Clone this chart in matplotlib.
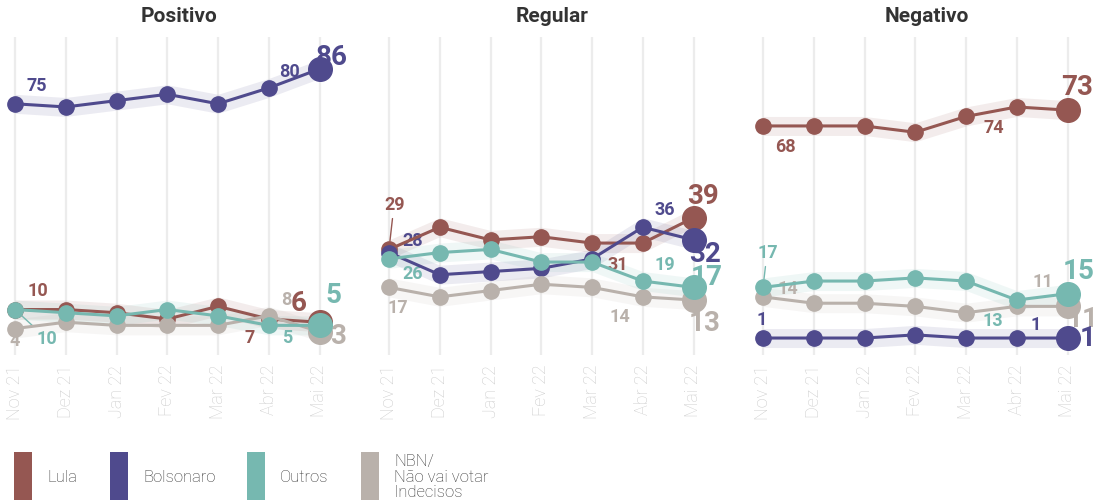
import numpy as np
import matplotlib
matplotlib.use('Agg')
import matplotlib.pyplot as plt
from matplotlib.patches import Rectangle

plt.rcParams['font.family'] = ['Roboto', 'DejaVu Sans']

months = ['Nov 21', 'Dez 21', 'Jan 22', 'Fev 22', 'Mar 22', 'Abr 22', 'Mai 22']
panels = ['Positivo', 'Regular', 'Negativo']

lula_pos = [10, 10, 9, 7, 11, 7, 6]
bolso_pos = [75, 74, 76, 78, 75, 80, 86]
outros_pos = [10, 9, 8, 10, 8, 5, 5]
nbn_pos = [4, 6, 5, 5, 5, 8, 3]

lula_reg = [29, 36, 32, 33, 31, 31, 39]
bolso_reg = [28, 21, 22, 23, 26, 36, 32]
outros_reg = [26, 28, 29, 25, 25, 19, 17]
nbn_reg = [17, 14, 16, 18, 17, 14, 13]

lula_neg = [68, 68, 68, 66, 71, 74, 73]
bolso_neg = [1, 1, 1, 2, 1, 1, 1]
outros_neg = [17, 19, 19, 20, 19, 13, 15]
nbn_neg = [14, 12, 12, 11, 9, 11, 11]

band = 3  # margem de erro aproximada

series = ['Lula', 'Bolsonaro', 'NBN', 'Outros']
legend_names = ['Lula', 'Bolsonaro', 'Outros', 'NBN/\nNão vai votar\nIndecisos']
colors = {'Lula': '#955752', 'Bolsonaro': '#4f4a8d', 'Outros': '#76b8b0', 'NBN': '#b9b1ab'}

data = {
    'Positivo': {'Lula': lula_pos, 'Bolsonaro': bolso_pos, 'Outros': outros_pos, 'NBN': nbn_pos},
    'Regular': {'Lula': lula_reg, 'Bolsonaro': bolso_reg, 'Outros': outros_reg, 'NBN': nbn_reg},
    'Negativo': {'Lula': lula_neg, 'Bolsonaro': bolso_neg, 'Outros': outros_neg, 'NBN': nbn_neg},
}

# (serie, mes, dx px, dy px, grande, linha guia)
labels = {
    'Positivo': [('Bolsonaro', 0, 22, 18, False, False), ('Bolsonaro', 5, 21, 16, False, False),
                 ('Bolsonaro', 6, 12, 11, True, False),
                 ('Lula', 0, 23, 19, False, False), ('NBN', 0, 0, -12, False, False),
                 ('Outros', 0, 32, -29, False, True), ('Lula', 5, -19, -19, False, False),
                 ('Outros', 5, 18, -13, False, False), ('NBN', 5, 18, 16, False, False),
                 ('Lula', 6, -21, 19, True, False), ('Outros', 6, 14, 30, True, False),
                 ('NBN', 6, 19, -5, True, False)],
    'Regular': [('Lula', 0, 6, 44, False, True), ('Bolsonaro', 0, 24, 12, False, False),
                ('Outros', 0, 24, -15, False, False), ('NBN', 0, 9, -21, False, False),
                ('Lula', 4, 26, -22, False, False), ('Outros', 5, 22, 16, False, False),
                ('NBN', 5, -23, -20, False, False), ('Bolsonaro', 5, 22, 17, False, False),
                ('Lula', 6, 9, 21, True, False), ('Bolsonaro', 6, 11, -15, True, False),
                ('Outros', 6, 13, 10, True, False), ('NBN', 6, 11, -23, True, False)],
    'Negativo': [('Lula', 0, 22, -21, False, False), ('Lula', 5, -23, -21, False, False),
                 ('Lula', 6, 10, 23, True, False), ('Outros', 0, 5, 34, False, True),
                 ('NBN', 0, 25, 8, False, False), ('Bolsonaro', 0, -1, 18, False, False),
                 ('Outros', 5, -24, -21, False, False), ('NBN', 5, 26, 24, False, False),
                 ('Bolsonaro', 5, 19, 13, False, False), ('Outros', 6, 11, 22, True, False),
                 ('NBN', 6, 15, -13, True, False), ('Bolsonaro', 6, 20, 0, True, False)],
}

W, H = 1096, 501
fig = plt.figure(figsize=(W / 100, H / 100), dpi=100)

x = np.arange(len(months))
lefts = [0, 374, 748]
ax_w = 357
spacing = 50.75

for p, name in enumerate(panels):
    ax = fig.add_axes([lefts[p] / W, (H - 355) / H, ax_w / W, 318 / H])
    ax.set_xlim(-15 / spacing, -15 / spacing + ax_w / spacing)
    ax.set_ylim(-4.36, 96.1)
    for s in ['top', 'right', 'left', 'bottom']:
        ax.spines[s].set_visible(False)
    ax.set_yticks([])
    ax.set_xticks(x)
    ax.set_xticklabels(months, rotation=90, fontsize=13, color='#cccccc', fontweight='light')
    ax.tick_params(axis='x', length=0, pad=7)
    ax.grid(axis='x', color='#ececec', lw=1.6, zorder=0)
    ax.set_axisbelow(True)

    for k, s in enumerate(series):
        v = np.array(data[name][s])
        c = colors[s]
        ax.fill_between(x, v - band, v + band, color=c, alpha=0.11, lw=0, zorder=1)
        ax.plot(x, v, color=c, lw=2.2, zorder=3 + k)
        ax.plot(x[:-1], v[:-1], 'o', color=c, ms=11, zorder=3 + k)
        ax.plot(x[-1], v[-1], 'o', color=c, ms=17, zorder=3 + k)

    for s, i, dx, dy, big, guide in labels[name]:
        v = data[name][s][i]
        kw = {}
        if guide:
            kw['arrowprops'] = dict(arrowstyle='-', color=colors[s], lw=1,
                                    shrinkA=1, shrinkB=6,
                                    relpos=(0.1, 0.9) if dy < 0 else (0.4, 0.0))
        ax.annotate(str(v), (i, v), xytext=(dx, dy), textcoords='offset pixels',
                    ha='center', va='center', color=colors[s],
                    fontsize=20 if big else 13, fontweight='bold', zorder=2, **kw)

    fig.text((lefts[p] + ax_w / 2) / W, (H - 16) / H, name, ha='center', va='center',
             fontsize=15, fontweight='bold', color='#333333')

# legenda
leg_rect = [14, 110, 247, 361]
for k, lab in enumerate(legend_names):
    key = ['Lula', 'Bolsonaro', 'Outros', 'NBN'][k]
    fig.add_artist(Rectangle((leg_rect[k] / W, 1 / H), 18 / W, 48 / H,
                             transform=fig.transFigure, color=colors[key], lw=0))
    fig.text((leg_rect[k] + 33) / W, (H - 477) / H, lab, ha='left', va='center',
             fontsize=12, fontweight='light', color='#333333', linespacing=1.05)

plt.savefig('out.png', dpi=100)
